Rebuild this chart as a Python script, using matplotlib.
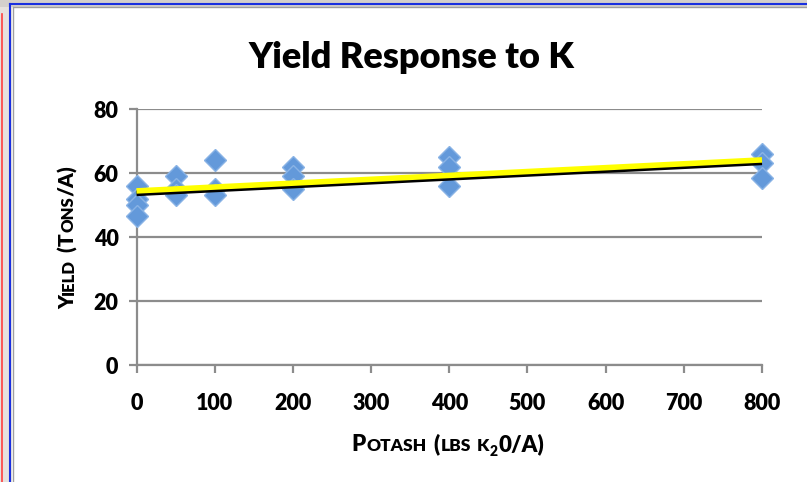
import numpy as np
import matplotlib
matplotlib.use('Agg')
import matplotlib.pyplot as plt
from matplotlib.lines import Line2D
from matplotlib.patches import Rectangle
from matplotlib.transforms import IdentityTransform, ScaledTranslation

# potash rate (lbs K2O/A) and yield (tons/A)
potash = [0, 0, 0, 0, 50, 50, 50, 100, 100, 100, 200, 200, 200, 400, 400, 400, 800, 800, 800]
yields = [56, 52, 50, 46.5, 59, 55, 53, 64, 55, 53, 62, 59, 55, 65, 62, 56, 66, 63, 58.5]

x_ticks = [0, 100, 200, 300, 400, 500, 600, 700, 800]
y_ticks = [0, 20, 40, 60, 80]

TITLE = 'Yield Response to K'
GRID = '#8c8c8c'
W, H = 807, 482

plt.rcParams['font.family'] = ['Lato', 'DejaVu Sans']
plt.rcParams['font.weight'] = 'bold'


def caps_label(fig, pieces, cx, cy, vertical=False):
    # pieces: (text, size in pt, downward shift in px); ' ' means a gap
    r = fig.canvas.get_renderer()
    widths = []
    for s, size, dy in pieces:
        if s == ' ':
            widths.append(size * 0.3 * fig.dpi / 72)
            continue
        t = fig.text(0, 0, s, fontsize=size, fontweight='heavy')
        widths.append(t.get_window_extent(r).width + 0.5)
        t.remove()
    pos = -sum(widths) / 2
    for (s, size, dy), w in zip(pieces, widths):
        if s != ' ':
            if vertical:
                fig.text(cx + dy, cy + pos, s, fontsize=size, fontweight='heavy',
                         rotation=90, rotation_mode='anchor', ha='left', va='baseline',
                         transform=IdentityTransform())
            else:
                fig.text(cx + pos, cy - dy, s, fontsize=size, fontweight='heavy',
                         ha='left', va='baseline', transform=IdentityTransform())
        pos += w


def main():
    fig = plt.figure(figsize=(W / 100, H / 100), dpi=100)
    fig.patch.set_facecolor('white')

    # screenshot frame bits around the chart
    fig.add_artist(Rectangle((0, 0), 12 / W, 1, color='#e6e2de', lw=0))
    fig.add_artist(Rectangle((0, 1 - 7 / H), 1, 7 / H, color='#d4d0cc', lw=0))
    fig.add_artist(Line2D([2 / W, 2 / W], [0, 1 - 14 / H], color='#ff4040', lw=1.2))
    fig.add_artist(Line2D([10 / W, 10 / W], [0, 1 - 4 / H], color='#1a30e0', lw=1.5))
    fig.add_artist(Line2D([10 / W, 1], [1 - 4 / H, 1 - 4 / H], color='#1a30e0', lw=1.5))
    fig.add_artist(Line2D([13 / W, 1], [1 - 7 / H, 1 - 7 / H], color='#a0a0a0', lw=1))
    fig.add_artist(Line2D([13 / W, 13 / W], [0, 1 - 7 / H], color='#a0a0a0', lw=1))

    ax = fig.add_axes([136.5 / W, 1 - 365 / H, 625.5 / W, 256 / H])
    ax.set_xlim(0, 800)
    ax.set_ylim(0, 80)
    ax.set_xticks(x_ticks)
    ax.set_yticks(y_ticks)
    ax.yaxis.grid(True, color=GRID, lw=1.6)
    ax.set_axisbelow(True)
    for side in ['top', 'right']:
        ax.spines[side].set_visible(False)
    for side in ['left', 'bottom']:
        ax.spines[side].set_color(GRID)
        ax.spines[side].set_linewidth(1.6)
    ax.tick_params(axis='both', direction='out', length=6, width=1.6, color=GRID, labelsize=15.5)
    ax.tick_params(axis='x', pad=14)
    ax.tick_params(axis='y', pad=7)
    for lbl in ax.get_xticklabels() + ax.get_yticklabels():
        lbl.set_fontweight('heavy')

    ax.plot(potash, yields, linestyle='none', marker='D', markersize=11,
            markerfacecolor='#6399da', markeredgecolor='#89b3e5', markeredgewidth=1,
            clip_on=False, zorder=3)

    coef = np.polyfit(potash, yields, 1)
    xs = np.array([0, 800])
    ys = np.polyval(coef, xs)
    shadow = ax.transData + ScaledTranslation(0, -0.025, fig.dpi_scale_trans)
    ax.plot(xs, ys, color='black', lw=4, transform=shadow, solid_capstyle='butt',
            clip_on=False, zorder=4)
    ax.plot(xs, ys, color='#ffff00', lw=4, solid_capstyle='butt', clip_on=False, zorder=5)

    fig.text(411 / W, 1 - 68 / H, TITLE, fontsize=26, fontweight='heavy',
             ha='center', va='baseline')

    caps_label(fig, [('Y', 15, 0), ('IELD', 12, 0), (' ', 15, 0), ('(', 15, 0),
                     ('T', 15, 0), ('ONS', 12, 0), ('/A)', 15, 0)],
               74, H - 237, vertical=True)
    caps_label(fig, [('P', 16, 0), ('OTASH', 12.5, 0), (' ', 16, 0), ('(', 16, 0),
                     ('LBS', 12.5, 0), (' ', 12.5, 0), ('K', 12.5, 0), ('2', 10, 5),
                     ('0/A)', 16, 0)],
               448, H - 451)

    fig.savefig('out.png', dpi=100)


if __name__ == '__main__':
    main()
